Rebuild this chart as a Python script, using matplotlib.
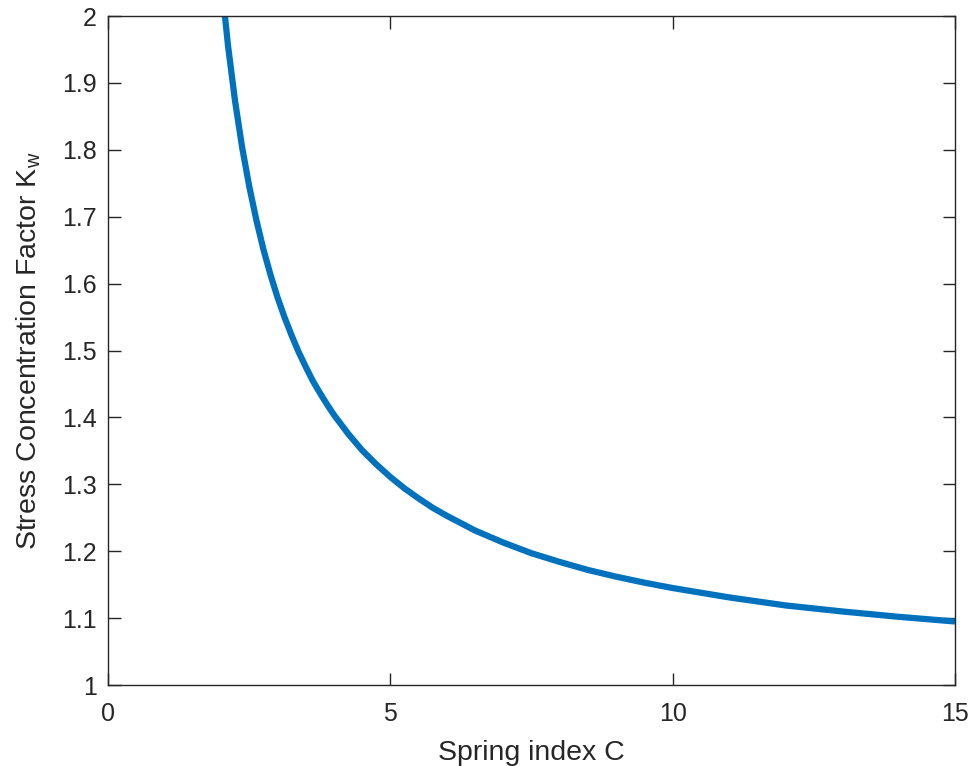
import matplotlib
matplotlib.use("Agg")
import matplotlib.pyplot as plt

# values
spring_index = [2.0, 2.125, 2.25, 2.375, 2.5, 2.625, 2.75, 2.875, 3.0, 3.125, 3.25, 3.375,
                3.5, 3.625, 3.75, 3.875, 4.0, 4.25, 4.5, 4.75, 5.0, 5.25, 5.5, 5.75, 6.0,
                6.5, 7.0, 7.5, 8.0, 8.5, 9.0, 9.5, 10.0, 11.0, 12.0, 13.0, 14.0, 15.0]
kw = [2.058, 1.956, 1.873, 1.804, 1.746, 1.696, 1.652, 1.614, 1.580, 1.550, 1.523, 1.498,
      1.476, 1.455, 1.437, 1.420, 1.404, 1.376, 1.351, 1.330, 1.311, 1.294, 1.279, 1.265, 1.253,
      1.231, 1.213, 1.197, 1.184, 1.172, 1.162, 1.153, 1.145, 1.131, 1.119, 1.110, 1.102, 1.095]

x_ticks = [0, 5, 10, 15]
y_ticks = [1, 1.1, 1.2, 1.3, 1.4, 1.5, 1.6, 1.7, 1.8, 1.9, 2]
y_labels = ["1", "1.1", "1.2", "1.3", "1.4", "1.5", "1.6", "1.7", "1.8", "1.9", "2"]

plt.rcParams['font.family'] = ['Liberation Sans', 'DejaVu Sans']
plt.rcParams['mathtext.fontset'] = 'custom'
plt.rcParams['mathtext.rm'] = 'Liberation Sans'
AX_COL = "#262626"

fig = plt.figure(figsize=(9.73, 7.66), dpi=100)
ax = fig.add_axes([0.111, 0.1057, 0.8705, 0.8733])

ax.plot(spring_index, kw, color="#0072BD", linewidth=4.5, solid_capstyle="butt",
        solid_joinstyle="round")

ax.set_xlim(0, 15)
ax.set_ylim(1, 2)
ax.set_xticks(x_ticks)
ax.set_xticklabels([str(t) for t in x_ticks])
ax.set_yticks(y_ticks)
ax.set_yticklabels(y_labels)

ax.tick_params(direction="in", length=9, width=1, colors=AX_COL, labelsize=18,
               top=True, right=True)
ax.tick_params(axis="x", pad=12)
ax.tick_params(axis="y", pad=8)
for s in ax.spines.values():
    s.set_color(AX_COL)
    s.set_linewidth(1)

ax.set_xlabel("Spring index C", fontsize=20.5, color=AX_COL, labelpad=10)
ax.set_ylabel("Stress Concentration Factor K$_\\mathregular{w}$", fontsize=20.5,
              color=AX_COL, labelpad=14)

fig.savefig("out.png", dpi=100)
